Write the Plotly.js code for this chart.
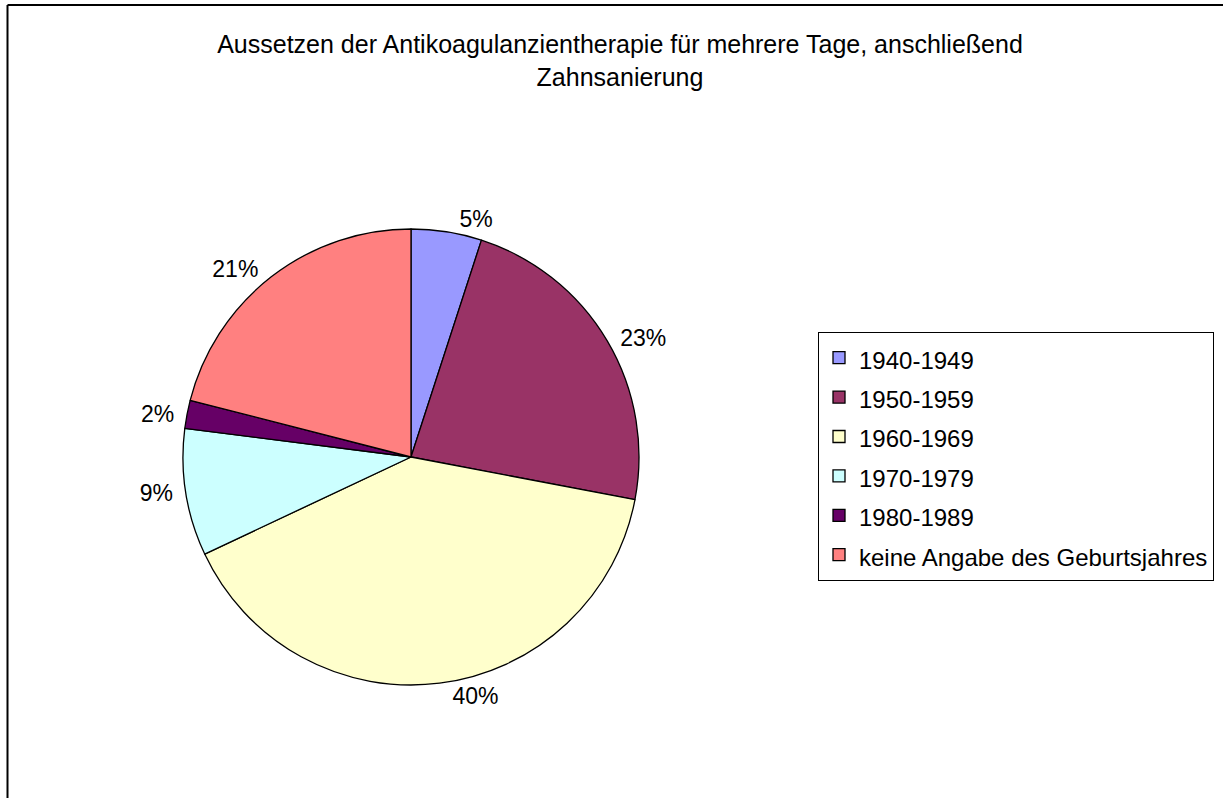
<!DOCTYPE html>
<html>
<head>
<meta charset="utf-8">
<script src="https://cdn.plot.ly/plotly-3.0.1.min.js"></script>
<style>html,body{margin:0;padding:0;background:#fff;}#chart{width:1223px;height:798px;}</style>
</head>
<body>
<div id="chart"></div>
<script>
const categories = ["1940-1949", "1950-1959", "1960-1969", "1970-1979", "1980-1989", "keine Angabe des Geburtsjahres"];
const values = [5, 23, 40, 9, 2, 21];
const colors = ["#9999FF", "#993366", "#FFFFCC", "#CCFFFF", "#660066", "#FF8080"];
const titleText = "Aussetzen der Antikoagulanzientherapie für mehrere Tage, anschließend<br>Zahnsanierung";

const W = 1223, H = 798;
const cx = 411, cy = 457, R = 228;
const NB = "\u00a0";

const trace = {
  type: "pie",
  labels: categories.map(c => '<span style="font-size:24px">' + c + '</span>'),
  values: values,
  sort: false,
  direction: "clockwise",
  rotation: 0,
  marker: { colors: colors, line: { color: "#000000", width: 1.3 } },
  textinfo: "percent",
  texttemplate: NB + "%{percent:.0%}" + NB,
  textposition: "outside",
  outsidetextfont: { family: "Liberation Sans, Arial, sans-serif", size: 23, color: "#000000" },
  hoverinfo: "label+percent",
  domain: { x: [(cx - R) / W, (cx + R) / W], y: [(H - cy - R) / H, (H - cy + R) / H] }
};

const layout = {
  width: W, height: H,
  margin: { l: 0, r: 0, t: 0, b: 0 },
  paper_bgcolor: "#ffffff",
  font: { family: "Liberation Sans, Arial, sans-serif", color: "#000000" },
  title: {
    text: titleText,
    font: { family: "Liberation Sans, Arial, sans-serif", size: 25, color: "#000000" },
    x: 620 / W, xanchor: "center",
    y: 1 - 53 / H, yanchor: "top"
  },
  showlegend: true,
  legend: {
    x: 818 / W, xanchor: "left",
    y: 1 - 332 / H, yanchor: "top",
    bordercolor: "#000000", borderwidth: 1,
    bgcolor: "#ffffff",
    font: { family: "Liberation Sans, Arial, sans-serif", size: 28, color: "#000000" },
    traceorder: "normal"
  },
  shapes: [
    { type: "line", xref: "paper", yref: "paper", x0: 7.5 / W, x1: 7.5 / W, y0: 0, y1: 1 - 5 / H, line: { color: "#000000", width: 2 } },
    { type: "line", xref: "paper", yref: "paper", x0: 7.5 / W, x1: 1, y0: 1 - 5 / H, y1: 1 - 5 / H, line: { color: "#000000", width: 2 } }
  ]
};

Plotly.newPlot("chart", [trace], layout, { displayModeBar: false, staticPlot: true });
</script>
</body>
</html>
